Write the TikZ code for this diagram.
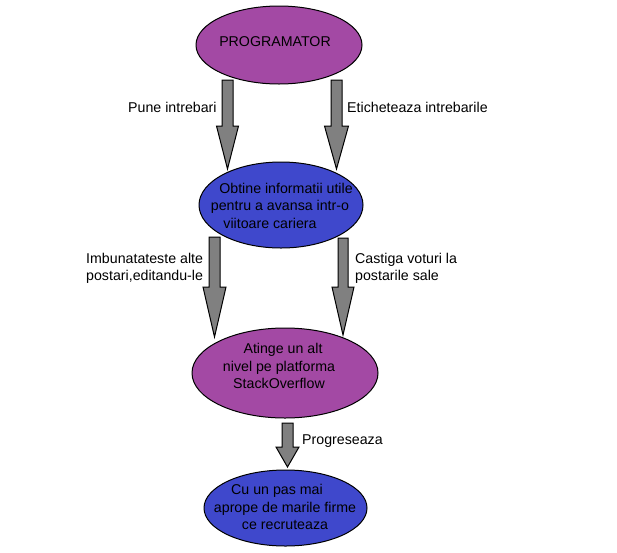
\documentclass[tikz,border=0pt]{standalone}
\usepackage{fontspec}
\setmainfont{Liberation Sans}
\usetikzlibrary{shapes.geometric}
\definecolor{purp}{RGB}{163,73,164}
\definecolor{indig}{RGB}{63,72,204}
\definecolor{arrgray}{RGB}{128,128,128}
\newcommand\blkarr[6]{%
  \filldraw[blk] ({#1-#5},#2) -- ({#1+#5},#2) -- ({#1+#5},#3) -- ({#1+#6},#3) -- (#1,#4)
    -- ({#1-#6},#3) -- ({#1-#5},#3) -- cycle;}
\begin{document}
\begin{tikzpicture}[x=1pt,y=-1pt,
  oval/.style={ellipse, draw=black, line width=1pt, inner sep=0pt},
  txt/.style={font=\fontsize{14.2}{17.5}\selectfont, align=center, inner sep=0pt, text=black},
  lbl/.style={font=\fontsize{14.2}{17}\selectfont, align=left, inner sep=0pt, text=black},
  blk/.style={fill=arrgray, draw=black, line width=1pt, line join=miter}]
\useasboundingbox (0,0) rectangle (617,552);
\fill[white] (0,0) rectangle (617,552);

% ellipses
\node[oval, fill=purp,  minimum width=166, minimum height=78] (e1) at (279,45) {};
\node[oval, fill=indig, minimum width=164, minimum height=86] (e2) at (281,205) {};
\node[oval, fill=purp,  minimum width=186, minimum height=90] (e3) at (285,373) {};
\node[oval, fill=indig, minimum width=163, minimum height=76] (e4) at (285.5,508) {};

% ellipse texts
\node[txt] (t1) at (275,42) {PROGRAMATOR};
\node[txt] (t2) at (280,205.5) {\hspace*{12pt}Obtine informatii utile\\pentru a avansa intr-o\hspace*{6pt}\\viitoare cariera\hspace*{20pt}};
\node[txt] (t3) at (279,366) {\hspace*{8pt}Atinge un alt\\nivel pe platforma\\StackOverflow};
\node[txt] (t4) at (285,507) {Cu un pas mai\hspace*{16pt}\\aprope de marile firme\\ce recruteaza};

% block arrows
\blkarr{227.5}{80}{126}{169}{5.5}{11}
\blkarr{336.5}{80}{126}{169}{5.5}{12}
\blkarr{214.5}{237}{287}{337}{5.5}{11.5}
\blkarr{343}{238}{287}{335}{5}{11}
\blkarr{287.5}{423}{447}{467}{5.5}{11.5}

% labels
\node[lbl, anchor=base west] (l1) at (128,112) {Pune intrebari};
\node[lbl, anchor=base west] (l2) at (347,112) {Eticheteaza intrebarile};
\node[lbl, anchor=west] (l3) at (86,268) {Imbunatateste alte\\postari,editandu-le};
\node[lbl, anchor=west] (l4) at (355,268) {Castiga voturi la\\postarile sale};
\node[lbl, anchor=base west] (l5) at (302,444) {Progreseaza};
\end{tikzpicture}
\end{document}
